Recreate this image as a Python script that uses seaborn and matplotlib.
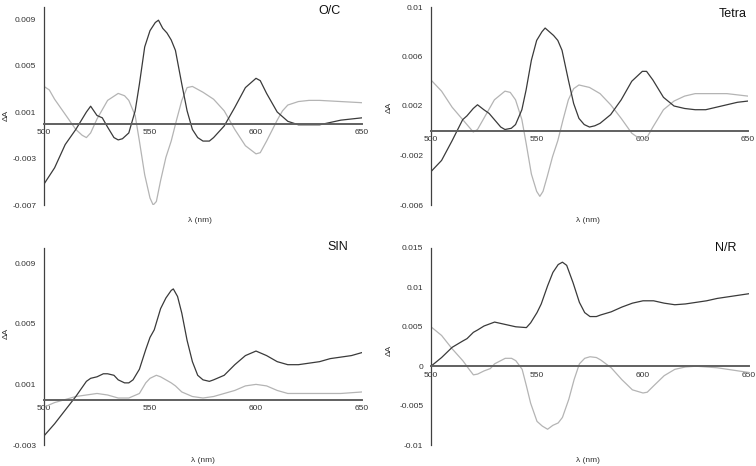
import numpy as np
import pandas as pd
import matplotlib
matplotlib.use('Agg')
import matplotlib.pyplot as plt
import seaborn as sns

# ---- data (wavelength in nm, delta A) ----
oc_dark_nm = [500, 505, 510, 515, 520, 522, 525, 527.5, 530, 533, 535, 537, 540, 543, 545, 547.5, 550,
              552.5, 554, 556, 558, 560, 562, 565, 567.5, 570, 572.5, 575, 578, 580, 585, 590, 595, 600,
              602, 605, 610, 615, 620, 625, 630, 635, 640, 645, 650]
oc_dark = [-0.0052, -0.0038, -0.0018, -0.0005, 0.0010, 0.0015, 0.0007, 0.0005, -0.0003, -0.0012, -0.0014,
           -0.0013, -0.0008, 0.0011, 0.0034, 0.0066, 0.0080, 0.0087, 0.0089, 0.0082, 0.0078, 0.0072, 0.0063,
           0.0034, 0.0011, -0.0005, -0.0012, -0.0015, -0.0015, -0.0012, -0.0002, 0.0014, 0.0031, 0.0039,
           0.0037, 0.0026, 0.0010, 0.0002, -0.0001, -0.0001, -0.0001, 0.0001, 0.0003, 0.0004, 0.0005]
oc_light_nm = [500, 502.5, 505, 510, 515, 518, 520, 522, 525, 530, 535, 538, 540, 543, 545, 547.5, 550,
               551.5, 553, 555, 557.5, 560, 562.5, 565, 567.5, 570, 575, 580, 585, 590, 595, 600, 602, 605,
               610, 612.5, 615, 620, 625, 630, 640, 650]
oc_light = [0.0032, 0.0029, 0.0021, 0.0008, -0.0005, -0.0010, -0.0012, -0.0008, 0.0004, 0.0020, 0.0026,
            0.0024, 0.0020, 0.0007, -0.0015, -0.0044, -0.0064, -0.0070, -0.0067, -0.0049, -0.0029, -0.0015,
            0.0003, 0.0020, 0.0031, 0.0032, 0.0027, 0.0021, 0.0011, -0.0005, -0.0019, -0.0026, -0.0025,
            -0.0015, 0.0003, 0.0011, 0.0016, 0.0019, 0.0020, 0.0020, 0.0019, 0.0018]

tetra_dark_nm = [500, 505, 510, 515, 517, 520, 522, 525, 527.5, 530, 533, 535, 538, 540, 543, 545, 547.5,
                 550, 552.5, 554, 556, 558, 560, 562, 565, 567.5, 570, 572.5, 575, 577.5, 580, 585, 590, 595,
                 600, 602, 605, 610, 615, 620, 625, 630, 635, 640, 645, 650]
tetra_dark = [-0.0033, -0.0024, -0.0008, 0.0009, 0.0012, 0.0018, 0.0021, 0.0017, 0.0014, 0.0009, 0.0003,
              0.0001, 0.0002, 0.0005, 0.0017, 0.0033, 0.0057, 0.0073, 0.0080, 0.0083, 0.0080, 0.0077, 0.0073,
              0.0065, 0.0041, 0.0022, 0.0010, 0.0005, 0.0003, 0.0004, 0.0006, 0.0013, 0.0025, 0.0040, 0.0048,
              0.0048, 0.0041, 0.0027, 0.0020, 0.0018, 0.0017, 0.0017, 0.0019, 0.0021, 0.0023, 0.0024]
tetra_light_nm = [500, 505, 510, 515, 518, 520, 522, 525, 530, 535, 537.5, 540, 543, 545, 547.5, 550, 551.5,
                  553, 555, 557.5, 560, 562.5, 565, 567.5, 570, 575, 580, 585, 590, 595, 600, 602, 605, 610,
                  615, 620, 625, 630, 640, 650]
tetra_light = [0.0041, 0.0032, 0.0019, 0.0009, 0.0003, -0.0001, 0.0001, 0.0010, 0.0025, 0.0032, 0.0031,
               0.0025, 0.0009, -0.0010, -0.0035, -0.0049, -0.0053, -0.0049, -0.0037, -0.0021, -0.0008, 0.0009,
               0.0025, 0.0034, 0.0037, 0.0035, 0.0030, 0.0021, 0.0010, -0.0002, -0.0008, -0.0006, 0.0003,
               0.0017, 0.0024, 0.0028, 0.0030, 0.0030, 0.0030, 0.0028]

sin_dark_nm = [500, 505, 510, 515, 518, 520, 522, 525, 528, 530, 533, 535, 538, 540, 542, 545, 548, 550,
               552, 555, 557.5, 560, 561, 563, 565, 567.5, 570, 572.5, 575, 578, 580, 585, 590, 595, 600, 605,
               610, 615, 620, 625, 630, 635, 640, 645, 650]
sin_dark = [-0.0024, -0.0016, -0.0007, 0.0002, 0.0008, 0.0012, 0.0014, 0.0015, 0.0017, 0.0017, 0.0016,
            0.0013, 0.0011, 0.0011, 0.0013, 0.0020, 0.0033, 0.0041, 0.0046, 0.0060, 0.0067, 0.0072, 0.0073,
            0.0068, 0.0057, 0.0039, 0.0025, 0.0016, 0.0013, 0.0012, 0.0013, 0.0016, 0.0023, 0.0029, 0.0032,
            0.0029, 0.0025, 0.0023, 0.0023, 0.0024, 0.0025, 0.0027, 0.0028, 0.0029, 0.0031]
sin_light_nm = [500, 505, 510, 515, 520, 525, 530, 535, 540, 545, 548, 550, 553, 555, 557.5, 560, 562, 565,
                570, 575, 580, 585, 590, 595, 600, 605, 610, 615, 620, 630, 640, 650]
sin_light = [-0.0005, -0.0002, 0.0000, 0.0002, 0.0003, 0.0004, 0.0003, 0.0001, 0.0001, 0.0004, 0.0011,
             0.0014, 0.0016, 0.0015, 0.0013, 0.0011, 0.0009, 0.0005, 0.0002, 0.0001, 0.0002, 0.0004, 0.0006,
             0.0009, 0.0010, 0.0009, 0.0006, 0.0004, 0.0004, 0.0004, 0.0004, 0.0005]

nr_dark_nm = [500, 505, 510, 515, 517, 520, 522, 525, 530, 535, 540, 545, 547, 550, 552, 555, 557.5, 560,
              562, 564, 567, 570, 572.5, 575, 578, 580, 585, 590, 595, 600, 605, 610, 615, 620, 625, 630,
              635, 640, 645, 650]
nr_dark = [0.0000, 0.0011, 0.0024, 0.0032, 0.0035, 0.0043, 0.0046, 0.0051, 0.0056, 0.0053, 0.0050, 0.0049,
           0.0055, 0.0068, 0.0079, 0.0102, 0.0119, 0.0129, 0.0132, 0.0128, 0.0106, 0.0081, 0.0068, 0.0063,
           0.0063, 0.0065, 0.0069, 0.0075, 0.0080, 0.0083, 0.0083, 0.0080, 0.0078, 0.0079, 0.0081, 0.0083,
           0.0086, 0.0088, 0.0090, 0.0092]
nr_light_nm = [500, 505, 510, 515, 518, 520, 522, 525, 528, 530, 535, 538, 540, 543, 545, 547, 550, 552.5,
               555, 557.5, 560, 562, 565, 567.5, 570, 572.5, 575, 578, 580, 585, 590, 595, 600, 602, 605, 610,
               615, 620, 625, 630, 635, 640, 645, 650]
nr_light = [0.0050, 0.0039, 0.0022, 0.0007, -0.0004, -0.0011, -0.0010, -0.0006, -0.0003, 0.0003, 0.0010,
            0.0010, 0.0007, -0.0004, -0.0025, -0.0047, -0.0070, -0.0076, -0.0080, -0.0075, -0.0072, -0.0065,
            -0.0042, -0.0017, 0.0003, 0.0010, 0.0012, 0.0011, 0.0008, -0.0002, -0.0017, -0.0030, -0.0034,
            -0.0033, -0.0025, -0.0012, -0.0004, -0.0001, 0.0000, -0.0001, -0.0002, -0.0004, -0.0006, -0.0008]

x_ticks = [500, 550, 600, 650]
oc_yticks = [-0.007, -0.003, 0.001, 0.005, 0.009]
tetra_yticks = [-0.006, -0.002, 0.002, 0.006, 0.01]
sin_yticks = [-0.003, 0.001, 0.005, 0.009]
nr_yticks = [-0.01, -0.005, 0, 0.005, 0.01, 0.015]

DARK = '#3a3a3a'
LIGHT = '#b4b4b4'
W, H = 756, 466


def px(x, y):
    # pixel position -> figure fraction
    return x / W, 1 - y / H


def draw_panel(fig, rect, dark_nm, dark, light_nm, light, ylim, yticks):
    l, t, r, b = rect
    ax = fig.add_axes([l / W, 1 - b / H, (r - l) / W, (b - t) / H])
    sns.lineplot(x=light_nm, y=light, ax=ax, color=LIGHT, lw=0.9)
    sns.lineplot(x=dark_nm, y=dark, ax=ax, color=DARK, lw=0.9)
    ax.set_xlim(500, 650)
    ax.set_ylim(*ylim)
    ax.set_xticks(x_ticks)
    ax.set_xticklabels([str(v) for v in x_ticks])
    ax.set_yticks(yticks)
    ax.set_yticklabels([f'{v:g}' for v in yticks])
    for s in ['top', 'right']:
        ax.spines[s].set_visible(False)
    ax.spines['bottom'].set_position(('data', 0))
    ax.spines['bottom'].set_color('#606060')
    ax.spines['bottom'].set_linewidth(1.4)
    ax.spines['left'].set_color('#404040')
    ax.spines['left'].set_linewidth(0.9)
    ax.tick_params(axis='x', direction='inout', length=3, width=0.7, pad=2.5, labelsize=6, colors='#333333')
    ax.tick_params(axis='y', direction='out', length=3, width=0.7, pad=2.5, labelsize=6, colors='#333333')
    ax.set_xlabel('')
    ax.set_ylabel('')
    ax.patch.set_alpha(0)
    return ax


sns.set_style('white')
plt.rcParams['font.family'] = ['Liberation Sans', 'DejaVu Sans']

fig = plt.figure(figsize=(7.56, 4.66), dpi=100)

draw_panel(fig, (44, 7.4, 362, 205), oc_dark_nm, oc_dark, oc_light_nm, oc_light, (-0.007, 0.01), oc_yticks)
draw_panel(fig, (431, 7, 748, 205), tetra_dark_nm, tetra_dark, tetra_light_nm, tetra_light, (-0.006, 0.01), tetra_yticks)
draw_panel(fig, (44, 248, 362, 445), sin_dark_nm, sin_dark, sin_light_nm, sin_light, (-0.003, 0.01), sin_yticks)
draw_panel(fig, (431, 248, 749, 445), nr_dark_nm, nr_dark, nr_light_nm, nr_light, (-0.01, 0.015), nr_yticks)

# panel titles
for label, (x, y) in [('O/C', (341, 11)), ('Tetra', (747, 14)), ('SIN', (348, 247)), ('N/R', (736, 248))]:
    fig.text(*px(x, y), label, ha='right', va='center', fontsize=9, color='#111111')

# axis labels
for x, y in [(200, 221), (588, 220), (203, 461), (588, 461)]:
    fig.text(*px(x, y), 'λ (nm)', ha='center', va='center', fontsize=6, color='#333333')
for x, y in [(6, 115), (389, 107), (6, 333), (389, 350)]:
    fig.text(*px(x, y), 'ΔA', ha='center', va='center', fontsize=6, rotation=90, color='#333333')

fig.savefig('out.png', dpi=100)
